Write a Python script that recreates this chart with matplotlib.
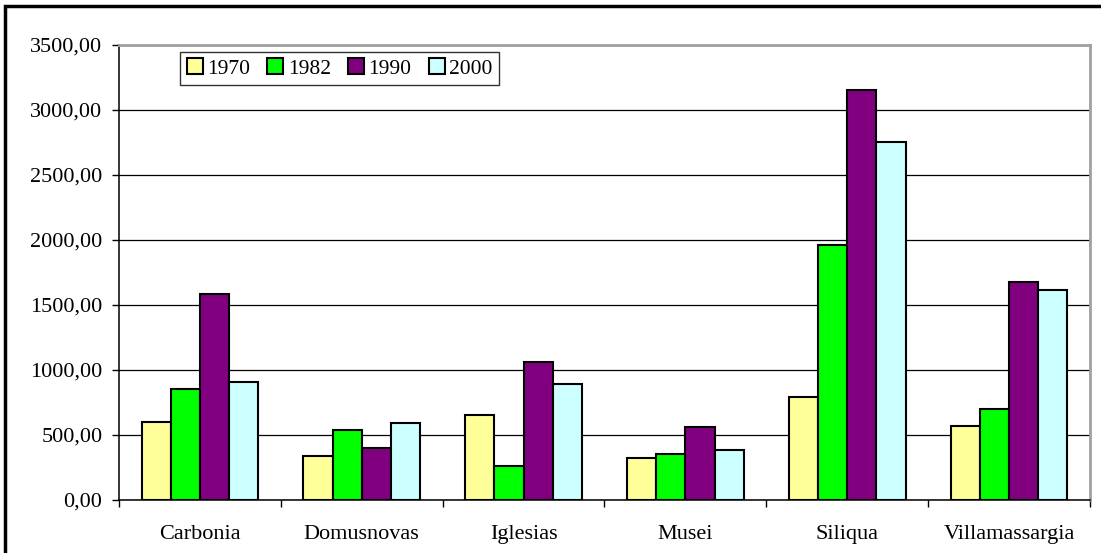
import matplotlib.pyplot as plt
import numpy as np
from matplotlib.patches import Rectangle
from matplotlib.ticker import FuncFormatter

plt.rcParams['font.family'] = ['Liberation Serif', 'DejaVu Serif']

comuni = ['Carbonia', 'Domusnovas', 'Iglesias', 'Musei', 'Siliqua', 'Villamassargia']
anni = ['1970', '1982', '1990', '2000']
v1970 = [597, 341, 654, 326, 790, 566]
v1982 = [855, 535, 264, 356, 1958, 698]
v1990 = [1582, 402, 1060, 565, 3154, 1674]
v2000 = [910, 596, 895, 385, 2752, 1612]
colori = ['#FFFF99', '#00FF00', '#800080', '#CCFFFF']


def fmt_it(v, pos):
    return f'{v:.2f}'.replace('.', ',')


fig = plt.figure(figsize=(11.01, 5.53), dpi=100)
ax = fig.add_axes([119 / 1101, 1 - 500 / 553, 971 / 1101, 455 / 553])

x = np.arange(len(comuni))
w = 0.18
serie = [v1970, v1982, v1990, v2000]
for i, vals in enumerate(serie):
    ax.bar(x + (i - 1.5) * w, vals, w, color=colori[i], edgecolor='black',
           linewidth=1.5, label=anni[i], zorder=3)

ax.set_xlim(-0.5, len(comuni) - 0.5)
ax.set_ylim(0, 3500)
ax.set_yticks(np.arange(0, 3501, 500))
ax.yaxis.set_major_formatter(FuncFormatter(fmt_it))
ax.yaxis.grid(True, color='black', linewidth=0.9, zorder=0)

ax.set_xticks(x)
ax.set_xticklabels(comuni)
ax.set_xticks(np.arange(-0.5, len(comuni)), minor=True)
ax.tick_params(axis='x', which='major', length=0, pad=18, labelsize=16)
ax.tick_params(axis='x', which='minor', length=5, width=1, direction='out')
ax.tick_params(axis='y', length=5, width=1, direction='out', pad=7, labelsize=16)

for s in ['left', 'bottom']:
    ax.spines[s].set_color('black')
    ax.spines[s].set_linewidth(1.1)
for s in ['top', 'right']:
    ax.spines[s].set_color('#a0a0a0')
    ax.spines[s].set_linewidth(2)

leg = ax.legend(loc='upper left', bbox_to_anchor=(0.063, 0.985), ncol=4,
                fontsize=15.5, frameon=True, fancybox=False, edgecolor='black',
                handlelength=0.75, handleheight=0.75, handletextpad=0.2,
                columnspacing=0.8, borderpad=0.3, borderaxespad=0)
leg.get_frame().set_linewidth(1)

fig.patches.append(Rectangle((5 / 1101, -0.02), 1.05, 1 - 6 / 553 + 0.02,
                             transform=fig.transFigure, fill=False,
                             edgecolor='black', linewidth=2.5))

plt.savefig('out.png', dpi=100)
